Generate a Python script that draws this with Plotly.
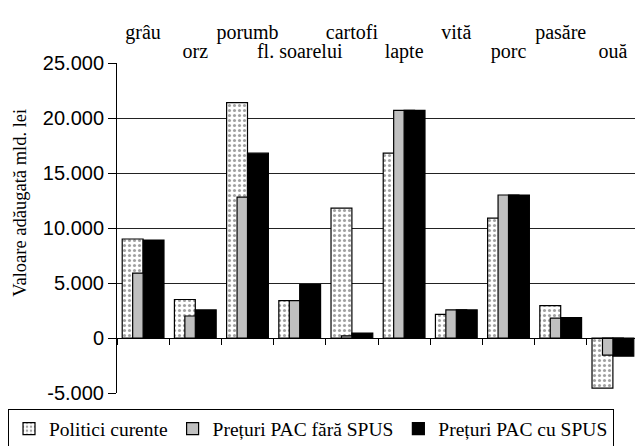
import plotly.graph_objects as go

categories = ["grâu", "orz", "porumb", "fl. soarelui", "cartofi", "lapte", "vită", "porc", "pasăre", "ouă"]
politici_curente = [9000, 3500, 21400, 3400, 11800, 16800, 2150, 10900, 2950, -4550]
pac_fara_spus = [5900, 2000, 12800, 3400, 200, 20700, 2550, 13000, 1800, -1550]
pac_cu_spus = [8900, 2550, 16800, 4850, 450, 20700, 2550, 13000, 1850, -1650]
series_names = ["Politici curente", "Prețuri PAC fără SPUS", "Prețuri PAC cu SPUS"]
y_title = "Valoare adăugată mld. lei"
y_tickvals = [-5000, 0, 5000, 10000, 15000, 20000, 25000]
y_ticktext = ["-5.000", "0", "5.000", "10.000", "15.000", "20.000", "25.000"]

SERIF = "serif"
SANS = "Liberation Sans, Arial, sans-serif"

fig = go.Figure()
fig.add_trace(go.Bar(
    x=categories, y=politici_curente, name=series_names[0],
    width=0.4, offset=-0.4,
    marker=dict(color="white", line=dict(color="black", width=1.2),
                pattern=dict(shape=".", bgcolor="white", fgcolor="#444", size=5, solidity=0.3)),
))
fig.add_trace(go.Bar(
    x=categories, y=pac_fara_spus, name=series_names[1],
    width=0.4, offset=-0.2,
    marker=dict(color="#c0c0c0", line=dict(color="black", width=1.2)),
))
fig.add_trace(go.Bar(
    x=categories, y=pac_cu_spus, name=series_names[2],
    width=0.4, offset=0.0,
    marker=dict(color="black", line=dict(color="black", width=1.2)),
))

fig.update_layout(
    width=635, height=438,
    margin=dict(l=109, r=4, t=55, b=53, autoexpand=False),
    barmode="overlay",
    paper_bgcolor="white", plot_bgcolor="white",
    showlegend=True,
    legend=dict(orientation="h",
                x=-0.2088, xanchor="left", y=-0.047, yanchor="top",
                bordercolor="black", borderwidth=1, bgcolor="white",
                font=dict(family=SERIF, size=19.5, color="black"), itemwidth=30,
                traceorder="normal"),
    xaxis=dict(type="category", categoryorder="array", categoryarray=categories,
               range=[-0.5, 9.5], anchor="free", position=1/6, side="bottom",
               showline=True, linecolor="black", linewidth=1, automargin=False,
               ticks="outside", ticklen=6, tickcolor="black", tickson="boundaries",
               showticklabels=False, showgrid=False, zeroline=False),
    xaxis2=dict(type="category", categoryorder="array", categoryarray=categories,
                matches="x", overlaying="x", side="top", anchor="y", automargin=False,
                tickvals=categories[0::2], ticktext=categories[0::2],
                showline=False, ticks="", showgrid=False, zeroline=False,
                ticklabelstandoff=19,
                tickfont=dict(family=SERIF, size=20, color="black")),
    xaxis3=dict(type="category", categoryorder="array", categoryarray=categories,
                matches="x", overlaying="x", side="top", anchor="y", automargin=False,
                tickvals=categories[1::2], ticktext=categories[1::2],
                showline=False, ticks="", showgrid=False, zeroline=False,
                ticklabelstandoff=0,
                tickfont=dict(family=SERIF, size=20, color="black")),
    yaxis=dict(range=[-5000, 25000], tickvals=y_tickvals, ticktext=y_ticktext,
               showline=True, linecolor="black", linewidth=1, automargin=False,
               ticks="outside", ticklen=8, tickcolor="black",
               showgrid=True, gridcolor="#222", gridwidth=1, zeroline=False,
               tickfont=dict(family=SANS, size=20, color="black")),
    annotations=[dict(text=y_title, textangle=-90, xref="paper", yref="paper",
                      x=-0.186, y=0.576, xanchor="center", yanchor="middle",
                      showarrow=False, font=dict(family=SERIF, size=18.5, color="black"))],
)

fig.add_trace(go.Bar(x=categories, y=[None]*len(categories), xaxis="x2", showlegend=False, hoverinfo="skip"))
fig.add_trace(go.Bar(x=categories, y=[None]*len(categories), xaxis="x3", showlegend=False, hoverinfo="skip"))

fig.write_html("out.html")
